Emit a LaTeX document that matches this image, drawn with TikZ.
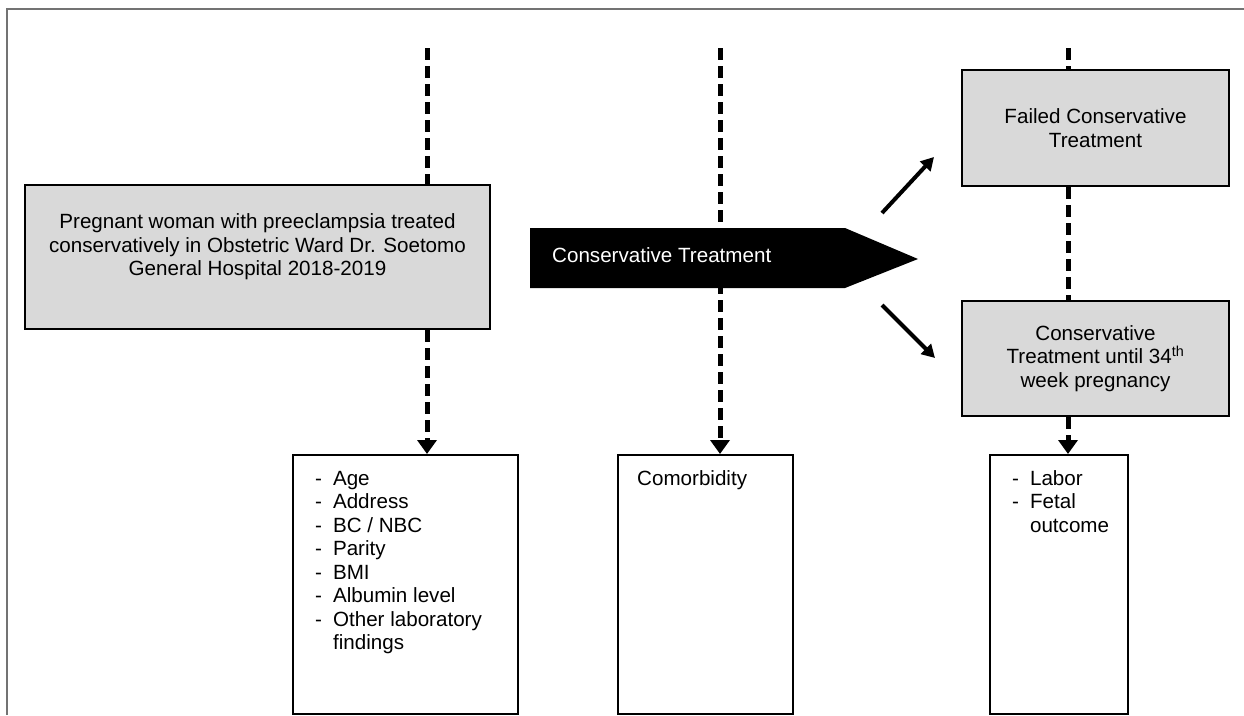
\documentclass[tikz,border=0pt]{standalone}
\usepackage{fontspec}
\setmainfont{Liberation Sans}
\usetikzlibrary{arrows.meta,positioning,calc}
\definecolor{boxgray}{HTML}{D9D9D9}

\begin{document}
\begin{tikzpicture}[x=1pt,y=-1pt,font=\fontsize{20.6}{23.5}\selectfont,
  gbox/.style={draw,fill=boxgray,line width=2pt,align=center,inner sep=0pt},
  wbox/.style={draw,line width=2pt,anchor=north west,inner sep=0pt},
  listtxt/.style={anchor=north west,inner sep=0pt},
  dashln/.style={line width=5pt,dash pattern=on 12pt off 6pt},
  pointer/.style={line width=4pt,-{Triangle[length=13pt,width=14pt]}}]
  \useasboundingbox (0,0) rectangle (1244,715);
  % open frame, top and left side only
  \draw[black!55,line width=1.5pt] (7,715) -- (7,9) -- (1244,9);
  % grey boxes
  \node[gbox,minimum width=465pt,minimum height=144pt] (hosp) at (257.5,257) {};
  \node[align=center,inner sep=0pt] (hosptxt) at ([yshift=10pt]hosp.center)
    {Pregnant woman with preeclampsia treated\\conservatively in Obstetric Ward Dr. Soetomo\\General Hospital 2018-2019};
  \node[gbox,minimum width=267pt,minimum height=116pt] (failed) at (1095.5,128)
    {Failed Conservative\\Treatment};
  \node[gbox,minimum width=267pt,minimum height=115pt] (until) at (1095.5,358.5)
    {Conservative\\Treatment until 34\textsuperscript{th}\\week pregnancy};
  % white boxes at the bottom
  \node[wbox,minimum width=225pt,minimum height=259pt] (chars) at (292,454) {};
  \node[wbox,minimum width=175pt,minimum height=259pt] (comorb) at (617,454) {};
  \node[wbox,minimum width=138pt,minimum height=259pt] (outc) at (989,454) {};
  \node[listtxt] (charstxt) at ([xshift=23pt,yshift=-14.5pt]chars.north west)
    {\begin{tabular}{@{}l@{\hspace{11pt}}l@{}}
      - & Age\\ - & Address\\ - & BC / NBC\\ - & Parity\\ - & BMI\\
      - & Albumin level\\ - & Other laboratory\\ & findings
    \end{tabular}};
  \node[listtxt] (comorbtxt) at ([xshift=20pt,yshift=-14.5pt]comorb.north west)
    {\begin{tabular}{@{}l@{}}Comorbidity\end{tabular}};
  \node[listtxt] (outctxt) at ([xshift=23pt,yshift=-14.5pt]outc.north west)
    {\begin{tabular}{@{}l@{\hspace{11pt}}l@{}}
      - & Labor\\ - & Fetal\\ & outcome
    \end{tabular}};
  % dashed time lines
  \coordinate (top1) at (427,48);
  \coordinate (top2) at (720,48);
  \coordinate (top3) at (1068,48);
  \draw[dashln] (top1) -- (top1 |- hosp.north);
  \draw[dashln,-{Triangle[length=14pt,width=19pt]}] (top1 |- hosp.south) -- (top1 |- chars.north);
  \draw[dashln,-{Triangle[length=14pt,width=19pt]}] (top2) -- (top2 |- comorb.north);
  \draw[dashln] (top3) -- (top3 |- failed.north);
  \draw[dashln] (top3 |- failed.south) -- (top3 |- until.north);
  \draw[dashln,-{Triangle[length=14pt,width=19pt]}] (top3 |- until.south) -- (top3 |- outc.north);
  % big black arrow
  \fill (530,228) -- (845,228) -- (918,259) -- (845,288) -- (530,288) -- cycle;
  \node[text=white,anchor=base west,inner sep=0pt] (cttxt) at (552,262) {Conservative Treatment};
  % branch arrows
  \coordinate (up0) at (882,213);
  \coordinate (up1) at (934,157);
  \coordinate (dn0) at (882,305);
  \coordinate (dn1) at (935,358);
  \draw[pointer] (up0) -- (up1);
  \draw[pointer] (dn0) -- (dn1);
\end{tikzpicture}
\end{document}
